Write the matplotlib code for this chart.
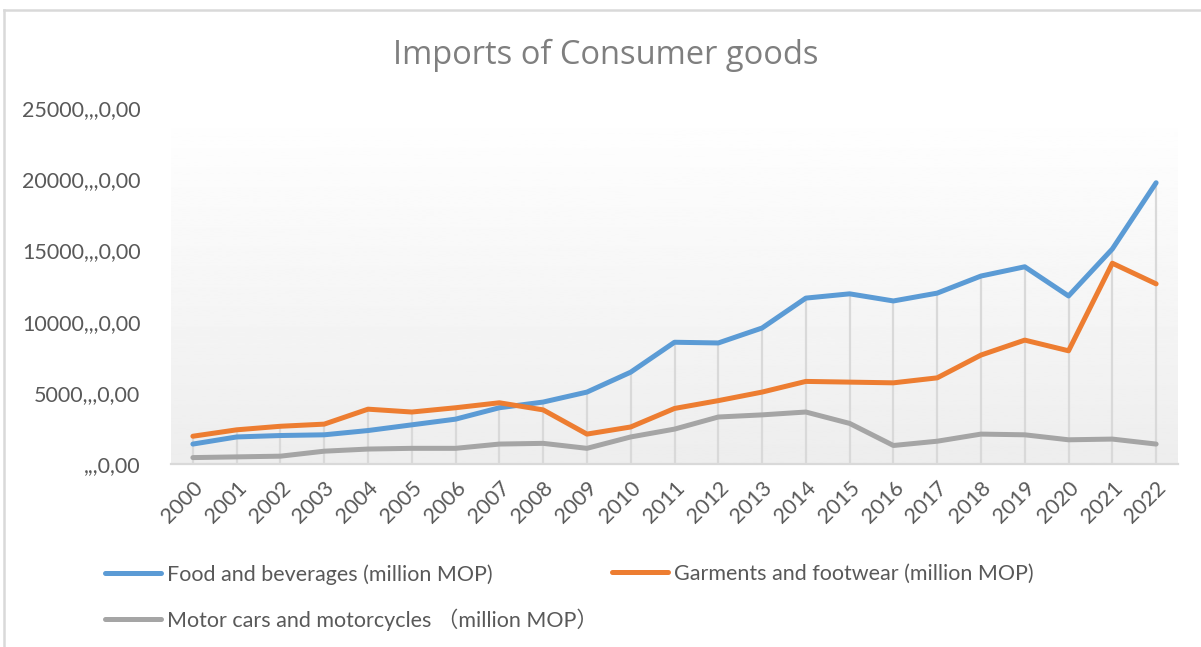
import numpy as np
import matplotlib
matplotlib.use("Agg")
from matplotlib import pyplot as plt
from matplotlib.lines import Line2D

plt.rcParams['font.family'] = ['Lato', 'Noto Sans CJK SC', 'DejaVu Sans']

years = [str(y) for y in range(2000, 2023)]
food = [1400, 1900, 2000, 2050, 2350, 2750, 3150, 3950, 4350, 5050, 6450, 8550,
        8500, 9550, 11650, 11950, 11450, 12000, 13200, 13850, 11800, 15100, 19750]
garments = [1950, 2400, 2650, 2800, 3850, 3650, 3950, 4300, 3800, 2100, 2600, 3900,
            4450, 5050, 5800, 5750, 5700, 6050, 7650, 8700, 7950, 14100, 12650]
cars = [450, 500, 550, 900, 1050, 1100, 1100, 1400, 1450, 1100, 1900, 2450,
        3300, 3450, 3650, 2850, 1300, 1600, 2100, 2050, 1700, 1750, 1400]
series_names = ["Food and beverages (million MOP)",
                "Garments and footwear (million MOP)",
                "Motor cars and motorcycles （million MOP）"]
yticks = [0, 5000, 10000, 15000, 20000, 25000]
ytick_labels = [",,,0,00", "5000,,,0,00", "10000,,,0,00", "15000,,,0,00",
                "20000,,,0,00", "25000,,,0,00"]

W, H = 1201, 647
fig = plt.figure(figsize=(W / 100, H / 100), dpi=100)
ax = fig.add_axes([171 / W, 1 - 464 / H, (1178 - 171) / W, (464 - 108) / H])

x = np.arange(len(years))
ax.set_xlim(-0.5, len(years) - 0.5)
ax.set_ylim(0, 25000)

# plot area gradient, white at top to light gray at bottom
grad = np.linspace(0.93, 1.0, 256).reshape(-1, 1)
ax.imshow(grad, cmap='gray', vmin=0, vmax=1, aspect='auto', origin='lower',
          extent=(-0.5, len(years) - 0.5, 0, 25000), zorder=0)

# drop lines from the highest point
tops = np.max([food, garments, cars], axis=0)
ax.vlines(x, 0, tops, colors='#d9d9d9', linewidth=1.6, zorder=1)

colors = ['#5b9bd5', '#ed7d31', '#a5a5a5']
lines = []
for vals, c, name in zip([food, garments, cars], colors, series_names):
    ln, = ax.plot(x, vals, color=c, linewidth=3.6, solid_capstyle='round',
                  solid_joinstyle='round', label=name, zorder=3)
    lines.append(ln)

for s in ['top', 'right', 'left']:
    ax.spines[s].set_visible(False)
ax.spines['bottom'].set_color('#d9d9d9')
ax.spines['bottom'].set_linewidth(1.6)
ax.spines['bottom'].set_zorder(2)

ax.set_yticks(yticks)
ax.set_yticklabels(ytick_labels)
ax.set_xticks(x)
ax.set_xticklabels(years, rotation=45, ha='right', rotation_mode='anchor')
ax.tick_params(axis='y', length=0, pad=22, labelsize=15.5, labelcolor='#595959')
ax.tick_params(axis='x', length=0, pad=10, labelsize=15.5, labelcolor='#595959')

fig.text(606 / W, 1 - 55 / H, "Imports of Consumer goods", ha='center', va='center',
         fontsize=23.5, color='#7f7f7f', family=['Open Sans', 'DejaVu Sans'])

# legend: two columns, placed as two legends
legkw = dict(loc='upper left', frameon=False, fontsize=15.5, labelcolor='#595959',
             handlelength=2.6, handletextpad=0.3, labelspacing=1.1,
             borderpad=0, borderaxespad=0)
leg1 = fig.legend([lines[0], lines[2]], [series_names[0], series_names[2]],
                  bbox_to_anchor=(105 / W, 1 - 564 / H), **legkw)
leg2 = fig.legend([lines[1]], [series_names[1]],
                  bbox_to_anchor=(612 / W, 1 - 564 / H), **legkw)

# chart border (top and left edges visible)
fig.add_artist(Line2D([4 / W, 1], [1 - 10 / H, 1 - 10 / H], color='#d9d9d9', linewidth=1.8))
fig.add_artist(Line2D([4 / W, 4 / W], [0, 1 - 10 / H], color='#d9d9d9', linewidth=1.8))

fig.savefig("out.png", dpi=100)
